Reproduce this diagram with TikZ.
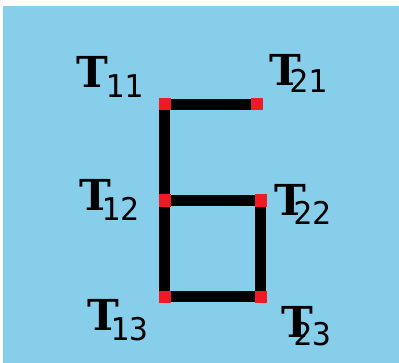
\documentclass[tikz,border=0pt]{standalone}
\usepackage{fontspec}
\newfontfamily\subfont{DejaVu Sans Mono}
\newfontfamily\tfont{DejaVu Serif}
\definecolor{bgblue}{RGB}{135,206,235}
\definecolor{jointred}{RGB}{236,28,36}
\tikzset{
  seg/.style={line width=8.25pt, line cap=butt, black},
  joint/.style={fill=jointred, draw=none, minimum size=9pt, inner sep=0pt, shape=rectangle},
  bigT/.style={anchor=base west, inner sep=0pt, font=\tfont\bfseries\fontsize{32}{32}\selectfont},
  subidx/.style={anchor=base west, inner sep=0pt, font=\subfont\fontsize{23.5}{23.5}\selectfont}
}
\begin{document}
\begin{tikzpicture}[x=0.75pt,y=-0.75pt]
\useasboundingbox (0,0) rectangle (399,363);
\fill[white] (0,0) rectangle (399,363);
\fill[bgblue] (3,6) rectangle (399,363);
% corner points
\coordinate (p11) at (164.5,104.5);
\coordinate (p21) at (257,104.5);
\coordinate (p12) at (164.5,200.5);
\coordinate (p22) at (260.5,200.5);
\coordinate (p13) at (164.5,296.5);
\coordinate (p23) at (260.5,296.5);
% segments
\draw[seg] (p21) -- (p11) -- (p13) -- (p23) -- (p22) -- (p12);
% joints
\node[joint] (j11) at (p11) {};
\node[joint] (j21) at (p21) {};
\node[joint] (j12) at (p12) {};
\node[joint] (j22) at (p22) {};
\node[joint] (j13) at (p13) {};
\node[joint] (j23) at (p23) {};
% labels
\node[bigT] (t11) at (76,88) {T};
\node[subidx] (s11) at (105,98) {11};
\node[bigT] (t21) at (269,86) {T};
\node[subidx] (s21) at (289,93) {21};
\node[bigT] (t12) at (79,210) {T};
\node[subidx] (s12) at (101,220) {12};
\node[bigT] (t22) at (274,215) {T};
\node[subidx] (s22) at (293,224) {22};
\node[bigT] (t13) at (87,330) {T};
\node[subidx] (s13) at (110,340) {13};
\node[bigT] (t23) at (281,337) {T};
\node[subidx] (s23) at (293,345) {23};
\end{tikzpicture}
\end{document}
